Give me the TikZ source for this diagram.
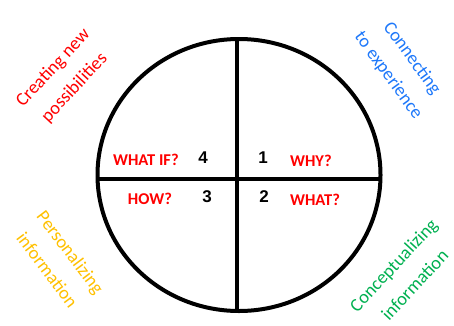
\documentclass[tikz,border=0pt]{standalone}
\usepackage{fontspec}
\setmainfont{Carlito}
\newfontfamily\numfont{Liberation Sans}
\usetikzlibrary{positioning}
\definecolor{newred}{RGB}{255,0,0}
\definecolor{expblue}{RGB}{30,120,250}
\definecolor{persgold}{RGB}{255,192,0}
\definecolor{concgreen}{RGB}{0,176,80}

\begin{document}
\begin{tikzpicture}[x=1pt, y=1pt,
    side/.style={align=center, font=\fontsize{18.5}{29}\selectfont},
    question/.style={text=newred, font=\fontsize{16.5}{18}\selectfont\bfseries},
    quadnum/.style={font=\numfont\fontsize{17}{20}\selectfont\bfseries}]
  \useasboundingbox (0,0) rectangle (454,325);
  % Circle and cross
  \draw[line width=4pt] (239,150) ellipse [x radius=141.5, y radius=136];
  \draw[line width=3.6pt] (237,14) -- (237,286);
  \draw[line width=3.6pt] (97.6,146) -- (380.4,146);
  % Quadrant questions
  \node[question] (whatif) at (146,165) {WHAT IF?};
  \node[quadnum] (four) at (203,167) {4};
  \node[quadnum] (one) at (263,167) {1};
  \node[question] (why) at (311,164) {WHY?};
  \node[question] (how) at (150,126) {HOW?};
  \node[quadnum] (three) at (207,128) {3};
  \node[quadnum] (two) at (264,128) {2};
  \node[question] (what) at (315,125) {WHAT?};
  % Labels round the circle
  \node[side, text=newred, rotate=47] (creating) at (64,247) {Creating new\\possibilities};
  \node[side, text=expblue, rotate=-54] (connecting) at (400,258) {Connecting\\to experience};
  \node[side, text=persgold, rotate=-53] (personal) at (59,64) {Personalizing\\information};
  \node[side, text=concgreen, rotate=47] (concept) at (404,50) {Conceptualizing\\information};
\end{tikzpicture}
\end{document}
